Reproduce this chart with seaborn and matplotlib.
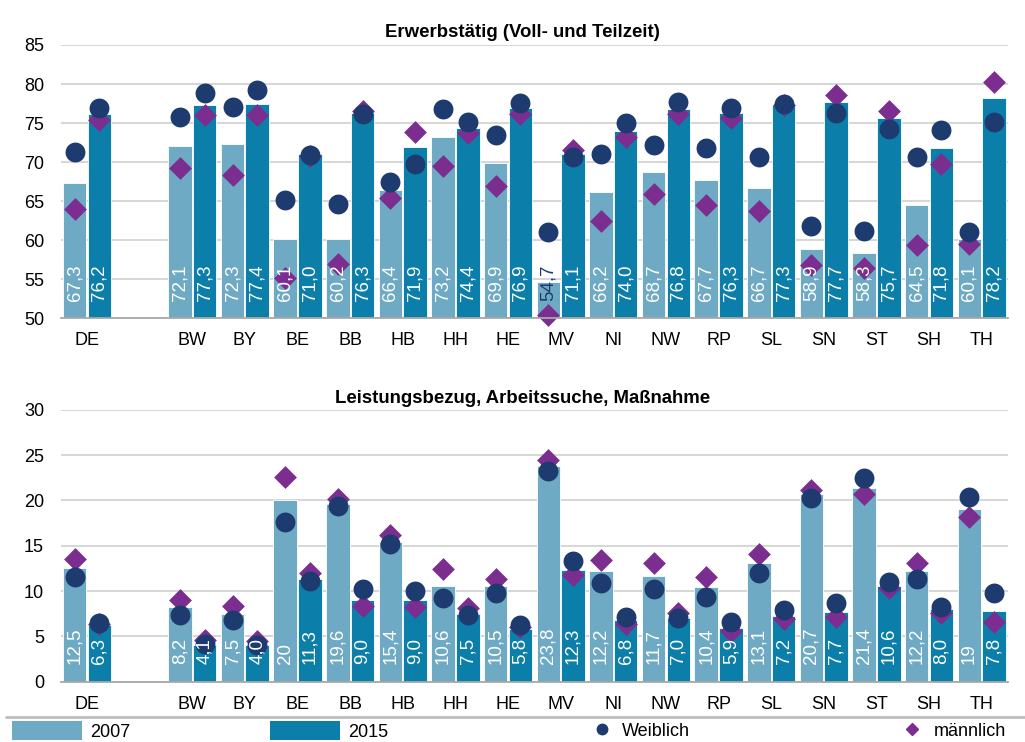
import numpy as np
import pandas as pd
import matplotlib
matplotlib.use("Agg")
import matplotlib.pyplot as plt
import seaborn as sns
from matplotlib.lines import Line2D
from matplotlib.patches import Patch

# ---------------- data ----------------
states = ["DE", "BW", "BY", "BE", "BB", "HB", "HH", "HE", "MV", "NI", "NW",
          "RP", "SL", "SN", "ST", "SH", "TH"]
slots = ["DE", " ", "BW", "BY", "BE", "BB", "HB", "HH", "HE", "MV", "NI", "NW",
         "RP", "SL", "SN", "ST", "SH", "TH"]
years = ["2007", "2015"]

title_top = "Erwerbstätig (Voll- und Teilzeit)"
title_bottom = "Leistungsbezug, Arbeitssuche, Maßnahme"

# Erwerbstätig - bars
erw_2007 = [67.3, 72.1, 72.3, 60.1, 60.2, 66.4, 73.2, 69.9, 54.7, 66.2, 68.7,
            67.7, 66.7, 58.9, 58.3, 64.5, 60.1]
erw_2015 = [76.2, 77.3, 77.4, 71.0, 76.3, 71.9, 74.4, 76.9, 71.1, 74.0, 76.8,
            76.3, 77.3, 77.7, 75.7, 71.8, 78.2]
erw_lab_2007 = ["67,3", "72,1", "72,3", "60,1", "60,2", "66,4", "73,2", "69,9", "54,7",
                "66,2", "68,7", "67,7", "66,7", "58,9", "58,3", "64,5", "60,1"]
erw_lab_2015 = ["76,2", "77,3", "77,4", "71,0", "76,3", "71,9", "74,4", "76,9", "71,1",
                "74,0", "76,8", "76,3", "77,3", "77,7", "75,7", "71,8", "78,2"]
# Erwerbstätig - markers (weiblich / männlich)
erw_w_2007 = [71.3, 75.8, 77.0, 65.1, 64.7, 67.4, 76.8, 73.5, 61.0, 71.1, 72.2,
              71.8, 70.6, 61.8, 61.2, 70.6, 61.1]
erw_w_2015 = [76.9, 78.8, 79.2, 70.9, 76.1, 69.8, 75.2, 77.6, 70.7, 75.0, 77.7,
              76.9, 77.4, 76.3, 74.3, 74.1, 75.2]
erw_m_2007 = [64.0, 69.2, 68.3, 55.2, 57.0, 65.4, 69.5, 66.9, 50.4, 62.4, 65.9,
              64.5, 63.8, 56.8, 56.4, 59.4, 59.5]
erw_m_2015 = [75.4, 76.0, 76.0, 70.8, 76.6, 73.8, 73.7, 76.2, 71.5, 73.2, 76.2,
              75.7, 77.3, 78.6, 76.5, 69.8, 80.2]

# Leistungsbezug - bars
lei_2007 = [12.5, 8.2, 7.5, 20.0, 19.6, 15.4, 10.6, 10.5, 23.8, 12.2, 11.7,
            10.4, 13.1, 20.7, 21.4, 12.2, 19.0]
lei_2015 = [6.3, 4.1, 4.0, 11.3, 9.0, 9.0, 7.5, 5.8, 12.3, 6.8, 7.0,
            5.9, 7.2, 7.7, 10.6, 8.0, 7.8]
lei_lab_2007 = ["12,5", "8,2", "7,5", "20", "19,6", "15,4", "10,6", "10,5", "23,8",
                "12,2", "11,7", "10,4", "13,1", "20,7", "21,4", "12,2", "19"]
lei_lab_2015 = ["6,3", "4,1", "4,0", "11,3", "9,0", "9,0", "7,5", "5,8", "12,3",
                "6,8", "7,0", "5,9", "7,2", "7,7", "10,6", "8,0", "7,8"]
# Leistungsbezug - markers
lei_w_2007 = [11.5, 7.4, 6.8, 17.6, 19.4, 15.2, 9.2, 9.8, 23.2, 10.9, 10.2,
              9.3, 12.0, 20.3, 22.5, 11.3, 20.4]
lei_w_2015 = [6.5, 4.2, 4.1, 11.1, 10.2, 10.0, 7.4, 6.2, 13.3, 7.1, 7.0,
              6.6, 7.9, 8.7, 11.0, 8.2, 9.8]
lei_m_2007 = [13.5, 9.0, 8.4, 22.6, 20.1, 16.2, 12.4, 11.3, 24.5, 13.4, 13.1,
              11.5, 14.1, 21.2, 20.7, 13.1, 18.2]
lei_m_2015 = [6.4, 4.6, 4.5, 12.0, 8.3, 8.2, 8.1, 6.0, 11.8, 6.4, 7.6,
              5.6, 6.9, 7.1, 10.3, 7.6, 6.6]

legend_labels = ["2007", "2015", "Weiblich", "männlich"]

# ---------------- style ----------------
C07 = "#6faac4"
C15 = "#0b7ea9"
CW = "#1e3b70"
CM = "#7b2e8f"
GRID = "#cfcfcf"
AXIS = "#a8a8a8"

sns.set_style("white")
plt.rcParams["font.family"] = ["Liberation Sans", "DejaVu Sans"]
plt.rcParams["text.color"] = "black"

fig = plt.figure(figsize=(10.25, 7.42), dpi=100)
ax_top = fig.add_axes([0.0592, 0.5710, 0.9242, 0.3684])
ax_bot = fig.add_axes([0.0592, 0.0813, 0.9242, 0.3665])

BAR_W = 0.94
OFF = BAR_W / 4


def panel(ax, title, v07, v15, l07, l15, w07, w15, m07, m15, ylim, yticks,
          dark_below, title_pad):
    df = pd.DataFrame({
        "state": states * 2,
        "year": [years[0]] * len(states) + [years[1]] * len(states),
        "value": v07 + v15,
    })
    sns.barplot(data=df, x="state", y="value", hue="year", order=slots,
                hue_order=years, palette=[C07, C15], saturation=1,
                width=BAR_W, gap=0.05, errorbar=None, edgecolor="white",
                linewidth=0.6, legend=False, ax=ax, zorder=2)

    pos = np.array([slots.index(s) for s in states], dtype=float)
    mk = pd.DataFrame({
        "x": np.concatenate([pos - OFF, pos + OFF]),
        "w": w07 + w15,
        "m": m07 + m15,
    })
    sns.scatterplot(data=mk, x="x", y="m", marker="D", s=135, color=CM,
                    linewidth=0, ax=ax, zorder=3, clip_on=False)
    sns.scatterplot(data=mk, x="x", y="w", marker="o", s=205, color=CW,
                    linewidth=0, ax=ax, zorder=4, clip_on=False)

    # value labels inside bars (at the base)
    for xs, vals, labs in ((pos - OFF, v07, l07), (pos + OFF, v15, l15)):
        for x, v, lab in zip(xs, vals, labs):
            col = CW if (v - ylim[0]) < dark_below else "white"
            ax.annotate(lab, xy=(x, ylim[0]), xytext=(0, 12.5),
                        textcoords="offset points", rotation=90,
                        ha="center", va="bottom", color=col, fontsize=13.5,
                        zorder=5, annotation_clip=False)

    ax.set_ylim(*ylim)
    ax.set_xlim(-0.5, len(slots) - 0.5)
    ax.set_yticks(yticks)
    ax.set_xticks(range(len(slots)))
    ax.set_xticklabels(slots)
    ax.set_xticks(np.arange(-0.5, len(slots), 1.0), minor=True)
    ax.set_xlabel("")
    ax.set_ylabel("")
    ax.grid(axis="y", color=GRID, linewidth=1.2)
    ax.grid(axis="x", visible=False)
    ax.set_axisbelow(True)
    for sp in ("top", "right", "left"):
        ax.spines[sp].set_visible(False)
    ax.spines["bottom"].set_color(AXIS)
    ax.spines["bottom"].set_linewidth(1.3)
    ax.spines["bottom"].set_zorder(6)
    ax.tick_params(axis="x", which="major", length=0, pad=10, labelsize=13,
                   labelcolor="black")
    ax.tick_params(axis="x", which="minor", length=5, width=1.2, color=AXIS)
    ax.tick_params(axis="y", length=0, pad=12, labelsize=13, labelcolor="black")
    ax.set_title(title, fontsize=13.4, fontweight="bold", x=0.4875,
                 pad=title_pad)


panel(ax_top, title_top, erw_2007, erw_2015, erw_lab_2007, erw_lab_2015,
      erw_w_2007, erw_w_2015, erw_m_2007, erw_m_2015, (50, 85),
      np.arange(50, 86, 5), 5, 6)
panel(ax_bot, title_bottom, lei_2007, lei_2015, lei_lab_2007, lei_lab_2015,
      lei_w_2007, lei_w_2015, lei_m_2007, lei_m_2015, (0, 30),
      np.arange(0, 31, 5), 0, 5)

# ---------------- legend ----------------
fig.add_artist(Line2D([0.006, 1.0], [0.0337, 0.0337], transform=fig.transFigure,
                      color="#bdbdbd", linewidth=2))

ycen = 0.0148
common = dict(frameon=False, fontsize=13, borderpad=0, borderaxespad=0,
              loc="center left")
fig.legend(handles=[Patch(facecolor=C07, edgecolor="none")],
           labels=[legend_labels[0]], bbox_to_anchor=(12 / 1025, ycen),
           handlelength=3.9, handleheight=1.25, handletextpad=0.45, **common)
fig.legend(handles=[Patch(facecolor=C15, edgecolor="none")],
           labels=[legend_labels[1]], bbox_to_anchor=(270 / 1025, ycen),
           handlelength=3.9, handleheight=1.25, handletextpad=0.45, **common)
fig.legend(handles=[Line2D([], [], linestyle="none", marker="o", markersize=7.5,
                           color=CW)],
           labels=[legend_labels[2]], bbox_to_anchor=(593 / 1025, ycen),
           handlelength=1.0, handletextpad=0.6, **common)
fig.legend(handles=[Line2D([], [], linestyle="none", marker="D", markersize=6.5,
                           color=CM)],
           labels=[legend_labels[3]], bbox_to_anchor=(903 / 1025, ycen),
           handlelength=1.0, handletextpad=0.7, **common)

fig.savefig("out.png", dpi=100)
